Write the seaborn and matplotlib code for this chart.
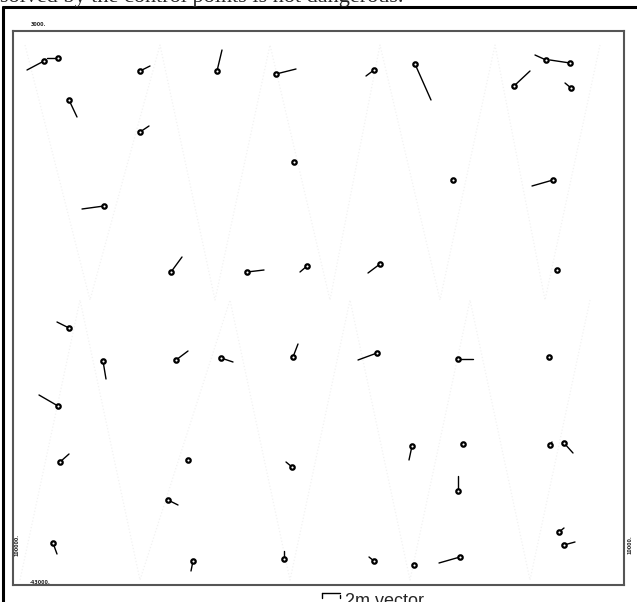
import matplotlib
matplotlib.use('Agg')
import matplotlib.pyplot as plt
import seaborn as sns
from matplotlib.lines import Line2D

# control points (picture units) and the tip of each displacement vector
pt_x = [44, 58, 140, 217, 276, 374, 415, 546, 570, 514, 571, 69, 140, 294, 104, 453,
        553, 171, 247, 307, 380, 557, 69, 103, 176, 221, 293, 377, 458, 549, 58, 60,
        188, 292, 412, 463, 550, 564, 458, 168, 53, 193, 284, 374, 414, 460, 559, 564]
pt_y = [61, 58, 71, 71, 74, 70, 64, 60, 63, 86, 88, 100, 132, 162, 206, 180,
        180, 272, 272, 266, 264, 270, 328, 361, 360, 358, 357, 353, 359, 357, 406, 462,
        460, 467, 446, 444, 445, 443, 491, 500, 543, 561, 559, 561, 565, 557, 532, 545]
end_x = [27, 47, 150, 222, 296, 366, 431, 535, 550, 530, 565, 77, 149, 294, 82, 453,
         532, 182, 264, 300, 368, 557, 57, 106, 188, 233, 298, 358, 473, 549, 39, 69,
         188, 286, 409, 463, 552, 573, 458, 178, 57, 191, 284, 369, 414, 439, 564, 575]
end_y = [70, 58, 66, 50, 69, 76, 100, 55, 60, 71, 83, 117, 126, 162, 209, 180,
         186, 257, 270, 272, 273, 270, 322, 379, 351, 362, 344, 360, 359, 357, 395, 454,
         460, 462, 460, 444, 442, 453, 476, 505, 554, 571, 551, 557, 565, 563, 528, 542]

# faint flight lines in the background
track1_x = [25, 90, 160, 215, 270, 330, 380, 440, 495, 545, 600]
track1_y = [45, 300, 45, 300, 45, 300, 45, 300, 45, 300, 45]
track2_x = [20, 80, 140, 230, 290, 350, 410, 470, 530, 590]
track2_y = [580, 300, 580, 300, 580, 300, 580, 300, 580, 300]

W, H = 637, 602

sns.set_style('white')
fig = plt.figure(figsize=(W / 100, H / 100), dpi=100)


def fx(px):
    return px / W


def fy(py):
    return 1 - py / H


ax = fig.add_axes([fx(13), fy(585), fx(624) - fx(13), fy(31) - fy(585)])
ax.set_xlim(13, 624)
ax.set_ylim(585, 31)
ax.set_xticks([])
ax.set_yticks([])
for s in ax.spines.values():
    s.set_color('#555555')
    s.set_linewidth(1.5)

sns.lineplot(x=track1_x, y=track1_y, sort=False, ax=ax, color='#f2f2f2',
             linestyle=':', linewidth=0.9, zorder=1)
sns.lineplot(x=track2_x, y=track2_y, sort=False, ax=ax, color='#f2f2f2',
             linestyle=':', linewidth=0.9, zorder=1)

for x0, y0, x1, y1 in zip(pt_x, pt_y, end_x, end_y):
    ax.plot([x0, x1], [y0, y1], color='black', linewidth=1.0, zorder=2)

sns.scatterplot(x=pt_x, y=pt_y, ax=ax, marker='o', s=10, facecolor='white',
                edgecolor='black', linewidth=1.6, zorder=3)

# tiny coordinate labels
fig.text(fx(31), fy(25), '3000.', fontsize=3.5, fontweight='bold', va='center', ha='left')
fig.text(fx(30), fy(582), '-43000.', fontsize=3.5, fontweight='bold', va='center', ha='left')
fig.text(fx(17), fy(545), '100000.', fontsize=3.5, fontweight='bold', rotation=90,
         va='center', ha='center')
fig.text(fx(630), fy(545), '10000.', fontsize=3.5, fontweight='bold', rotation=90,
         va='center', ha='center')

# outer frame
fig.add_artist(Line2D([fx(3), 1], [fy(7), fy(7)], color='black', linewidth=2.2))
fig.add_artist(Line2D([fx(3), fx(3)], [fy(7), 0], color='black', linewidth=2.2))

# caption cut at the top
fig.text(fx(0), fy(2), 'solved by the control points is not dangerous.',
         fontsize=16, family=['Liberation Serif', 'DejaVu Serif'], va='baseline', ha='left')

# scale bar
fig.add_artist(Line2D([fx(322), fx(340)], [fy(593), fy(593)], color='black', linewidth=1.0))
fig.add_artist(Line2D([fx(322), fx(322)], [fy(593), fy(598)], color='black', linewidth=1.0))
fig.add_artist(Line2D([fx(340), fx(340)], [fy(595), fy(598)], color='black', linewidth=1.0))
fig.text(fx(345), fy(606), '2m vector', fontsize=13, family=['Liberation Sans', 'DejaVu Sans'],
         va='baseline', ha='left')

fig.savefig('out.png', dpi=100)
